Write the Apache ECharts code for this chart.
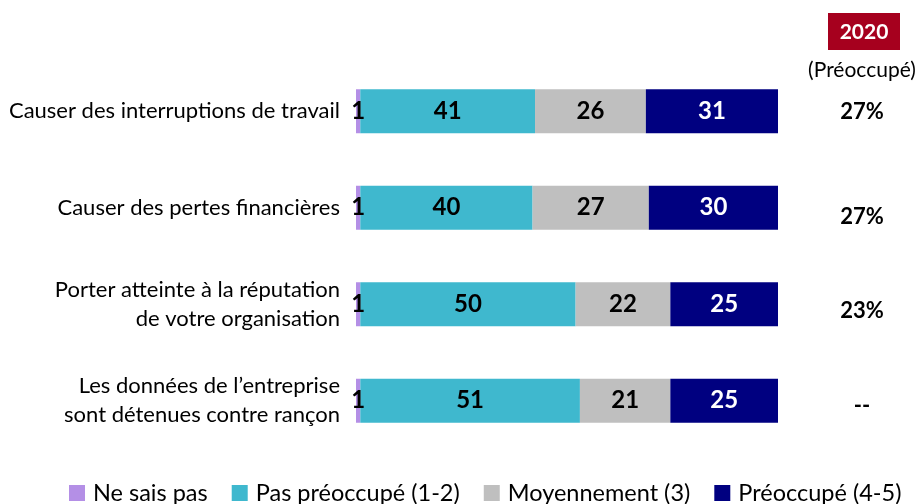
<!DOCTYPE html>
<html lang="fr">
<head>
<meta charset="UTF-8" />
<title>Préoccupations</title>
<script src="https://cdn.jsdelivr.net/npm/echarts@6/dist/echarts.min.js"></script>
<style>
    * { margin: 0; padding: 0; }
    #main { width: 921px; height: 504px; }
</style>
</head>
<body>
<div id="main"></div>
<script>
    const categories = [
        "Causer des interruptions de travail",
        "Causer des pertes financières",
        "Porter atteinte à la réputation\nde votre organisation",
        "Les données de l’entreprise\nsont détenues contre rançon"
    ];
    const seriesNames = ["Ne sais pas", "Pas préoccupé (1-2)", "Moyennement (3)", "Préoccupé (4-5)"];
    const nsp = [1, 1, 1, 1];
    const pasPreoc = [41, 40, 50, 51];
    const moyen = [26, 27, 22, 21];
    const preoc = [31, 30, 25, 25];
    const prev2020 = ["27%", "27%", "23%", "--"];

    const colors = ["#B48FE6", "#3FB8CE", "#BFBFBF", "#000080"];
    const font = "Lato, 'Open Sans', sans-serif";

    // barres 100 % empilées : chaque ligne ramenée à son total
    const rows = [nsp, pasPreoc, moyen, preoc];
    const totals = categories.map((c, i) => rows.reduce((s, r) => s + r[i], 0));

    var myChart = echarts.init(document.getElementById("main"));

    const series = rows.map((r, k) => ({
        name: seriesNames[k],
        type: "bar",
        stack: "total",
        barWidth: 44,
        itemStyle: { color: colors[k] },
        label: {
            show: true,
            position: "inside",
            fontFamily: font,
            fontWeight: "bold",
            fontSize: 24,
            color: k === 3 ? "#fff" : "#000",
            formatter: (p) => r[p.dataIndex]
        },
        data: r.map((v, i) => (v / totals[i]) * 100)
    }));

    // colonne 2020 à droite
    const rightY = [112, 217, 311, 406];
    const graphics = [
        { type: "rect", shape: { x: 828, y: 13, width: 72, height: 37 }, style: { fill: "#A6001E" } },
        { type: "text", x: 864, y: 32, style: { text: "2020", fill: "#fff", font: "bold 21px " + font, align: "center", verticalAlign: "middle" } },
        { type: "text", x: 862, y: 70, style: { text: "(Préoccupé)", fill: "#000", font: "21px " + font, align: "center", verticalAlign: "middle" } }
    ];
    prev2020.forEach((t, i) => {
        graphics.push({ type: "text", x: 862, y: rightY[i], style: { text: t, fill: "#000", font: "bold 22px " + font, align: "center", verticalAlign: "middle" } });
    });

    option = {
        animation: false,
        grid: { left: 356, right: 143, top: 63, bottom: 55 },
        xAxis: { type: "value", min: 0, max: 100, show: false },
        yAxis: {
            type: "category",
            data: categories,
            inverse: true,
            axisLine: { show: false },
            axisTick: { show: false },
            axisLabel: { fontFamily: font, fontSize: 22, color: "#000", margin: 16, lineHeight: 29, align: "right" }
        },
        legend: {
            top: 476,
            left: 64,
            itemWidth: 16,
            itemHeight: 16,
            itemGap: 24,
            icon: "rect",
            textStyle: { fontFamily: font, fontSize: 23.5, color: "#000", padding: [0, 0, 0, 3] },
            data: seriesNames
        },
        graphic: graphics,
        series: series
    };
    option && myChart.setOption(option);
</script>
</body>
</html>
